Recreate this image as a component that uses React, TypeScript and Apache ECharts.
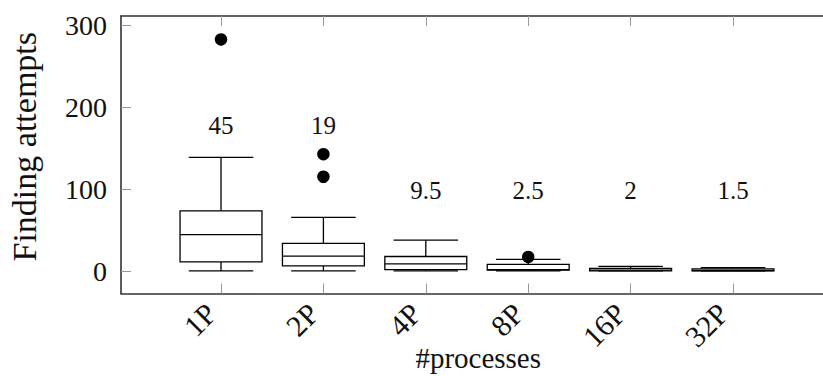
import React, { useEffect, useRef } from "react";
import * as echarts from "echarts";

// Attempts per process count: five-number summaries
const categories = ["1P", "2P", "4P", "8P", "16P", "32P"];
const lowerWhisker = [1, 1, 1, 1, 1, 1];
const lowerQuartile = [12, 7, 2.5, 2, 1, 1];
const median = [45, 19, 9.5, 2.5, 2, 1.5];
const upperQuartile = [74, 34.5, 18.5, 9, 4, 3.5];
const upperWhisker = [139, 66, 38.5, 15, 6.5, 5];

// Outliers as [category, attempts]
const outlierCategory = ["1P", "2P", "2P", "8P"];
const outlierValue = [282.5, 143, 115.5, 18];

// Heights (in attempts) where each median is written
const medianLabelHeight = [178, 178, 99, 99, 99, 99];

const yTicks = [0, 100, 200, 300];
const xTicks = categories.map((_, i) => i + 1);

const FONT = "Liberation Serif";
const INK = "#111";

export default function App() {
  const ref = useRef<HTMLDivElement>(null);

  useEffect(() => {
    if (!ref.current) return;
    const chart = echarts.init(ref.current, undefined, { renderer: "svg" });

    const boxData = categories.map((_, i) => [
      i + 1,
      lowerWhisker[i],
      lowerQuartile[i],
      median[i],
      upperQuartile[i],
      upperWhisker[i],
    ]);
    const outlierData = outlierCategory.map((c, i) => [
      categories.indexOf(c) + 1,
      outlierValue[i],
    ]);
    const labelData = categories.map((_, i) => [
      i + 1,
      medianLabelHeight[i],
      String(median[i]),
    ]);

    const xMin = 0.0234;
    const xMax = 7;
    const yMin = -26.5;
    const yMax = 311;

    const frameLine = { show: true, lineStyle: { color: "#333", width: 1.6 } };
    const innerTick = (vals: number[]) => ({
      show: true,
      inside: true,
      length: 10,
      customValues: vals,
      lineStyle: { color: "#999", width: 1 },
    });

    chart.setOption({
      animation: false,
      textStyle: { fontFamily: FONT },
      grid: {
        left: 121,
        top: 16,
        width: (xMax - xMin) * 102.4,
        height: 277.5,
        containLabel: false,
        outerBoundsMode: "none",
      },
      xAxis: [
        {
          type: "value",
          min: xMin,
          max: xMax,
          position: "bottom",
          axisLine: { ...frameLine, onZero: false },
          axisTick: innerTick(xTicks),
          splitLine: { show: false },
          axisLabel: {
            customValues: xTicks,
            rotate: 45,
            margin: 5,
            padding: [0, 14, 0, 0],
            fontFamily: FONT,
            fontSize: 30,
            color: INK,
            formatter: (v: number) => categories[Math.round(v) - 1] ?? "",
          },
          name: "#processes",
          nameLocation: "middle",
          nameGap: 50,
          nameMoveOverlap: false,
          nameTextStyle: { fontFamily: FONT, fontSize: 29, color: INK },
        },
        {
          type: "value",
          min: xMin,
          max: xMax,
          position: "top",
          axisLine: { ...frameLine, onZero: false },
          axisTick: innerTick(xTicks),
          axisLabel: { show: false },
          splitLine: { show: false },
        },
      ],
      yAxis: [
        {
          type: "value",
          min: yMin,
          max: yMax,
          position: "left",
          axisLine: { ...frameLine, onZero: false },
          axisTick: innerTick(yTicks),
          splitLine: { show: false },
          axisLabel: {
            customValues: yTicks,
            margin: 14,
            fontFamily: FONT,
            fontSize: 28,
            color: INK,
          },
          name: "Finding attempts",
          nameLocation: "middle",
          nameRotate: 90,
          nameGap: 80,
          nameMoveOverlap: false,
          nameTextStyle: {
            fontFamily: FONT,
            fontSize: 34,
            color: INK,
            padding: [0, 0, 0, 16],
          },
        },
        {
          type: "value",
          min: yMin,
          max: yMax,
          position: "right",
          axisLine: { ...frameLine, onZero: false },
          axisTick: innerTick(yTicks),
          axisLabel: { show: false },
          splitLine: { show: false },
        },
      ],
      series: [
        {
          type: "custom",
          xAxisIndex: 0,
          yAxisIndex: 0,
          data: boxData,
          encode: { x: 0, y: [1, 2, 3, 4, 5] },
          renderItem: (_params: any, api: any) => {
            const x = api.value(0);
            const p = (k: number) => api.coord([x, api.value(k)]);
            const lo = p(1);
            const q1 = p(2);
            const md = p(3);
            const q3 = p(4);
            const hi = p(5);
            const cx = lo[0];
            const boxW = api.size([0.8, 0])[0];
            const capW = api.size([0.63, 0])[0];
            const stroke = { stroke: "#000", lineWidth: 1.3, fill: "none" };
            return {
              type: "group",
              children: [
                { type: "line", shape: { x1: cx, y1: lo[1], x2: cx, y2: q1[1] }, style: stroke },
                { type: "line", shape: { x1: cx, y1: q3[1], x2: cx, y2: hi[1] }, style: stroke },
                { type: "line", shape: { x1: cx - capW / 2, y1: lo[1], x2: cx + capW / 2, y2: lo[1] }, style: stroke },
                { type: "line", shape: { x1: cx - capW / 2, y1: hi[1], x2: cx + capW / 2, y2: hi[1] }, style: stroke },
                {
                  type: "rect",
                  shape: { x: cx - boxW / 2, y: q3[1], width: boxW, height: q1[1] - q3[1] },
                  style: { stroke: "#000", lineWidth: 1.3, fill: "#fff" },
                },
                { type: "line", shape: { x1: cx - boxW / 2, y1: md[1], x2: cx + boxW / 2, y2: md[1] }, style: stroke },
              ],
            };
          },
          z: 2,
        },
        {
          type: "scatter",
          xAxisIndex: 0,
          yAxisIndex: 0,
          data: outlierData,
          symbol: "circle",
          symbolSize: 12.5,
          itemStyle: { color: "#000", opacity: 1 },
          z: 3,
        },
        {
          type: "scatter",
          xAxisIndex: 0,
          yAxisIndex: 0,
          data: labelData,
          symbolSize: 0,
          itemStyle: { opacity: 1 },
          label: {
            show: true,
            position: "inside",
            formatter: (p: any) => p.value[2],
            fontFamily: FONT,
            fontSize: 25,
            color: INK,
          },
          z: 4,
        },
      ],
    });

    return () => chart.dispose();
  }, []);

  return (
    <div
      style={{
        position: "fixed",
        left: 0,
        top: 0,
        width: "100vw",
        height: "100vh",
        overflow: "hidden",
        background: "#fff",
      }}
    >
      <div ref={ref} style={{ width: 860, height: 376 }} />
    </div>
  );
}
